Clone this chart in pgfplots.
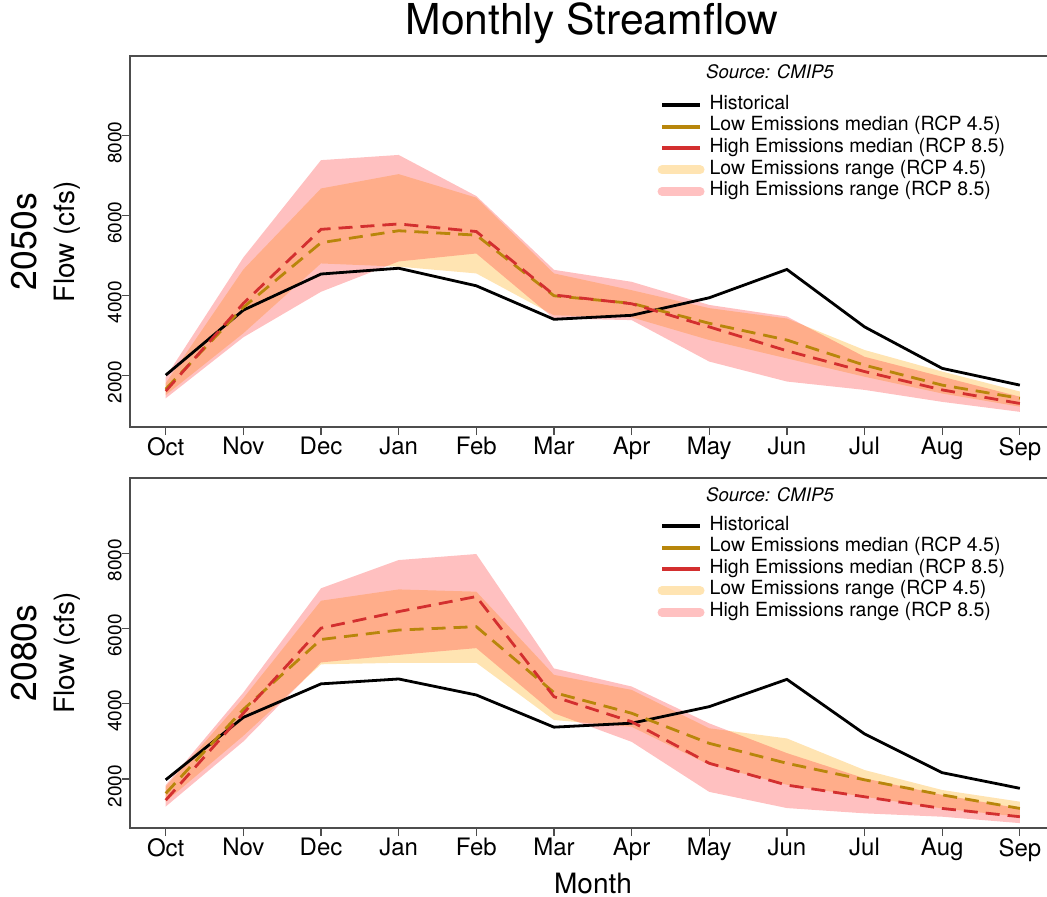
\documentclass[border=0pt]{standalone}
\usepackage{fontspec}
\setmainfont{TeX Gyre Heros}
\usepackage{pgfplots}
\pgfplotsset{compat=1.18}
\definecolor{lowc}{HTML}{B8860B}
\definecolor{highc}{HTML}{D32F2F}
\definecolor{lowfill}{HTML}{FFA500}
\definecolor{highfill}{HTML}{FF3030}
\definecolor{axisgray}{HTML}{4D4D4D}
\pgfplotsset{
  panel/.style={
    scale only axis, width=462pt, anchor=south west,
    xmin=-0.46, xmax=11.44, ymin=700, ymax=10000,
    scaled y ticks=false,
    xtick={0,...,11},
    xticklabels={Oct,Nov,Dec,Jan,Feb,Mar,Apr,May,Jun,Jul,Aug,Sep},
    ytick={2000,4000,6000,8000}, yticklabels={2000,4000,6000,8000},
    xtick pos=left, ytick pos=left, tick align=outside, major tick length=4pt,
    axis line style={axisgray, line width=0.7pt},
    every tick/.style={axisgray, line width=0.6pt},
    xticklabel style={font=\fontsize{12}{14}\selectfont, inner sep=0pt, yshift=-1pt},
    yticklabel style={font=\fontsize{9.5}{11}\selectfont, rotate=90, anchor=south, inner sep=0pt, xshift=-3.5pt},
    clip=false,
    legend image code/.code={\draw[##1] (0pt,0pt) -- (19pt,0pt);},
    legend cell align=left,
    legend style={draw=none, fill=none, anchor=north west,
      font=\fontsize{9.75}{10.8}\selectfont, row sep=0pt, column sep=2.5pt, inner sep=0pt,
      nodes={inner sep=0pt, text height=7.5pt, text depth=3.3pt}},
  },
  lowband/.style={fill=lowfill, fill opacity=0.3, draw=none, forget plot},
  highband/.style={fill=highfill, fill opacity=0.3, draw=none, forget plot},
  histline/.style={black, line width=1.4pt, forget plot},
  lowline/.style={lowc, line width=1.4pt, dash pattern=on 7pt off 4pt, forget plot},
  highline/.style={highc, line width=1.4pt, dash pattern=on 7pt off 4pt, forget plot},
}
\begin{document}
\begin{tikzpicture}
\node[font=\fontsize{21.3}{24}\selectfont, anchor=base] at (296pt,430.5pt) {Monthly Streamflow};
% ---------------- 2050s ----------------
\begin{axis}[panel, at={(65pt,234.5pt)}, height=185.5pt,
  legend style={at={(rel axis cs:0.5705,0.898)}}]
\addplot[lowband] coordinates {
 (0,1800)(1,4650)(2,6680)(3,7040)(4,6450)(5,4550)(6,4130)(7,3680)(8,3420)(9,2630)(10,2090)(11,1590)
 (11,1210)(10,1540)(9,1960)(8,2420)(7,2880)(6,3450)(5,3500)(4,4550)(3,4720)(2,4800)(1,3050)(0,1500)} -- cycle;
\addplot[highband] coordinates {
 (0,1950)(1,4950)(2,7390)(3,7520)(4,6490)(5,4640)(6,4340)(7,3760)(8,3470)(9,2460)(10,1960)(11,1460)
 (11,1080)(10,1330)(9,1630)(8,1840)(7,2340)(6,3380)(5,3420)(4,5050)(3,4850)(2,4090)(1,2950)(0,1420)} -- cycle;
\addplot[histline] coordinates {
 (0,2000)(1,3630)(2,4535)(3,4680)(4,4240)(5,3400)(6,3500)(7,3940)(8,4650)(9,3210)(10,2170)(11,1750)};
\addplot[lowline] coordinates {
 (0,1650)(1,3700)(2,5320)(3,5620)(4,5510)(5,3990)(6,3800)(7,3300)(8,2880)(9,2250)(10,1750)(11,1420)};
\addplot[highline] coordinates {
 (0,1600)(1,3800)(2,5655)(3,5790)(4,5600)(5,4010)(6,3790)(7,3210)(8,2610)(9,2090)(10,1630)(11,1290)};
\addlegendimage{black, line width=2pt}
\addlegendentry{Historical}
\addlegendimage{lowc, line width=2pt}
\addlegendentry{Low Emissions median (RCP 4.5)}
\addlegendimage{highc, line width=2pt}
\addlegendentry{High Emissions median (RCP 8.5)}
\addlegendimage{lowfill!30, line width=4.5pt, line cap=round}
\addlegendentry{Low Emissions range (RCP 4.5)}
\addlegendimage{highfill!30, line width=4.5pt, line cap=round}
\addlegendentry{High Emissions range (RCP 8.5)}
\node[font=\itshape\fontsize{9.3}{11}\selectfont] at (rel axis cs:0.6926,0.957) {Source: CMIP5};
\node[font=\fontsize{14}{16}\selectfont, rotate=90] at (rel axis cs:-0.0682,0.5) {Flow (cfs)};
\node[font=\fontsize{17.8}{20}\selectfont, rotate=90] at (rel axis cs:-0.1147,0.5) {2050s};
\end{axis}
% ---------------- 2080s ----------------
\begin{axis}[panel, at={(65pt,34pt)}, height=175pt,
  legend style={at={(rel axis cs:0.5705,0.895)}}]
\addplot[lowband] coordinates {
 (0,1800)(1,4150)(2,6740)(3,7040)(4,6980)(5,4770)(6,4370)(7,3350)(8,3080)(9,2240)(10,1710)(11,1400)
 (11,1000)(10,1220)(9,1530)(8,1850)(7,2380)(6,3390)(5,3570)(4,5090)(3,5090)(2,5050)(1,3150)(0,1400)} -- cycle;
\addplot[highband] coordinates {
 (0,1840)(1,4300)(2,7070)(3,7820)(4,7980)(5,4940)(6,4460)(7,3480)(8,2690)(9,2020)(10,1580)(11,1220)
 (11,830)(10,1000)(9,1090)(8,1230)(7,1660)(6,2990)(5,3750)(4,5480)(3,5300)(2,5100)(1,3000)(0,1270)} -- cycle;
\addplot[histline] coordinates {
 (0,1980)(1,3640)(2,4530)(3,4660)(4,4235)(5,3380)(6,3485)(7,3925)(8,4650)(9,3200)(10,2170)(11,1755)};
\addplot[lowline] coordinates {
 (0,1620)(1,3850)(2,5710)(3,5960)(4,6050)(5,4300)(6,3750)(7,2950)(8,2420)(9,1980)(10,1580)(11,1220)};
\addplot[highline] coordinates {
 (0,1440)(1,3750)(2,6010)(3,6450)(4,6850)(5,4190)(6,3525)(7,2420)(8,1840)(9,1530)(10,1220)(11,1000)};
\addlegendimage{black, line width=2pt}
\addlegendentry{Historical}
\addlegendimage{lowc, line width=2pt}
\addlegendentry{Low Emissions median (RCP 4.5)}
\addlegendimage{highc, line width=2pt}
\addlegendentry{High Emissions median (RCP 8.5)}
\addlegendimage{lowfill!30, line width=4.5pt, line cap=round}
\addlegendentry{Low Emissions range (RCP 4.5)}
\addlegendimage{highfill!30, line width=4.5pt, line cap=round}
\addlegendentry{High Emissions range (RCP 8.5)}
\node[font=\itshape\fontsize{9.3}{11}\selectfont] at (rel axis cs:0.6926,0.951) {Source: CMIP5};
\node[font=\fontsize{14}{16}\selectfont, rotate=90] at (rel axis cs:-0.0682,0.5) {Flow (cfs)};
\node[font=\fontsize{17.8}{20}\selectfont, rotate=90] at (rel axis cs:-0.1147,0.5) {2080s};
\end{axis}
\node[font=\fontsize{14}{16}\selectfont, anchor=base] at (296.5pt,1.5pt) {Month};
\pgfresetboundingbox
\useasboundingbox (0pt,0pt) rectangle (523.5pt,448pt);
\end{tikzpicture}
\end{document}
